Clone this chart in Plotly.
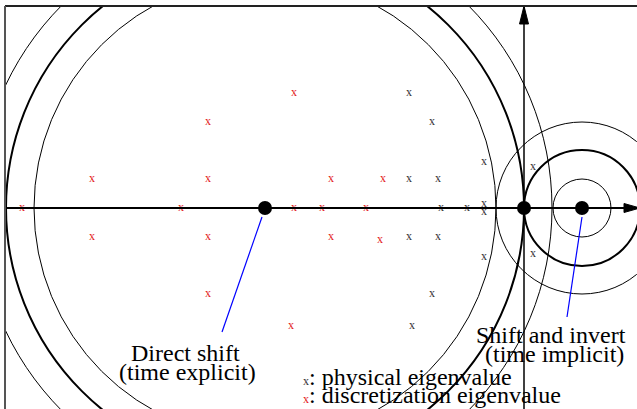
import plotly.graph_objects as go

# ---- data (units: 1 unit ~ 1 px, origin at the axes crossing) ----
phys_x = [-115, -92, -115, -86, -115, -86, -83, -57, -40, -40, -40, -40, 9, 9, -92, -112]
phys_y = [115, 86, 29, 29, -29, -29, 0, 0, 4, -4, 46, -49, 41, -46, -86, -118]

disc_x = [-502, -432, -432, -316, -316, -316, -316, -343, -230, -233, -230, -202, -158, -193, -193, -141, -144]
disc_y = [0, 29, -29, 86, 29, -29, -86, 0, 115, -118, 0, 0, 0, 29, -29, 29, -32]

shift_names = ["Direct shift", "Shift and invert"]
shift_x = [-259, 58]
shift_y = [0, 0]

direct_radii = [231, 259, 287]
direct_widths = [1, 2, 1]
invert_radii = [29, 58, 86]
invert_widths = [1, 2, 1]

# leader lines (from shift point to label)
lead_direct_x = [-262, -302]
lead_direct_y = [-9, -124]
lead_invert_x = [58, 43]
lead_invert_y = [-9, -109]

x_range = [-519, 113]
y_range = [-201, 202]

FONT = "Liberation Serif, Times New Roman, serif"
RED = "#e31a1a"
DARK = "#333333"

fig = go.Figure()

shapes = []
# circles
for r, w in zip(direct_radii, direct_widths):
    cx = shift_x[0]
    shapes.append(dict(type="circle", xref="x", yref="y", x0=cx - r, x1=cx + r, y0=-r, y1=r,
                       line=dict(color="black", width=w), layer="below"))
for r, w in zip(invert_radii, invert_widths):
    cx = shift_x[1]
    shapes.append(dict(type="circle", xref="x", yref="y", x0=cx - r, x1=cx + r, y0=-r, y1=r,
                       line=dict(color="black", width=w), layer="below"))

# axes lines
shapes.append(dict(type="line", xref="x", yref="y", x0=x_range[0], x1=x_range[1] + 3, y0=0, y1=0,
                   line=dict(color="black", width=2)))
shapes.append(dict(type="line", xref="x", yref="y", x0=0, x1=0, y0=y_range[0], y1=y_range[1],
                   line=dict(color="black", width=1.5)))
# arrowheads
head_len, head_half = 16, 4.5
tipx = x_range[1] + 3
shapes.append(dict(type="path", xref="x", yref="y",
                   path=f"M {tipx},0 L {tipx-head_len},{head_half} L {tipx-head_len},{-head_half} Z",
                   fillcolor="black", line=dict(color="black", width=1)))
tipy = y_range[1]
head_len_v = 18
shapes.append(dict(type="path", xref="x", yref="y",
                   path=f"M 0,{tipy} L {head_half},{tipy-head_len_v} L {-head_half},{tipy-head_len_v} Z",
                   fillcolor="black", line=dict(color="black", width=1)))
# frame (top and left)
shapes.append(dict(type="line", xref="paper", yref="paper", x0=0, x1=1, y0=1, y1=1,
                   line=dict(color="#222222", width=2)))
shapes.append(dict(type="line", xref="paper", yref="paper", x0=0, x1=0, y0=0, y1=1,
                   line=dict(color="#555555", width=2)))

# leader lines
fig.add_trace(go.Scatter(x=lead_direct_x, y=lead_direct_y, mode="lines",
                         line=dict(color="blue", width=1.2), hoverinfo="skip"))
fig.add_trace(go.Scatter(x=lead_invert_x, y=lead_invert_y, mode="lines",
                         line=dict(color="blue", width=1.2), hoverinfo="skip"))

# eigenvalues
fig.add_trace(go.Scatter(x=phys_x, y=phys_y, mode="text", text=["x"] * len(phys_x),
                         textposition="middle center",
                         textfont=dict(family=FONT, size=12, color=DARK), name="physical eigenvalue"))
fig.add_trace(go.Scatter(x=disc_x, y=disc_y, mode="text", text=["x"] * len(disc_x),
                         textposition="middle center",
                         textfont=dict(family=FONT, size=12, color=RED), name="discretization eigenvalue"))

# shift points
fig.add_trace(go.Scatter(x=[shift_x[0], 0, shift_x[1]], y=[0, 0, 0], mode="markers",
                         marker=dict(color="black", size=14), hoverinfo="skip"))

annotations = [
    dict(x=-339, y=-145, text="Direct shift"),
    dict(x=-336.5, y=-164, text="(time explicit)"),
    dict(x=27, y=-127, text="Shift and invert"),
    dict(x=30, y=-146, text="(time implicit)"),
]
anns = []
for a in annotations:
    anns.append(dict(x=a["x"], y=a["y"], xref="x", yref="y", text=a["text"], showarrow=False,
                     xanchor="center", yanchor="middle",
                     font=dict(family=FONT, size=24, color="black")))
legend_items = [("physical eigenvalue", DARK, -169), ("discretization eigenvalue", RED, -187)]
for label, col, yy in legend_items:
    anns.append(dict(x=-223, y=yy, xref="x", yref="y", showarrow=False, xanchor="left", yanchor="middle",
                     text=f"<span style='font-size:12px;color:{col}'>x</span>: {label}",
                     font=dict(family=FONT, size=24, color="black")))

fig.update_layout(
    width=637, height=409,
    margin=dict(l=5, r=0, t=6, b=0),
    paper_bgcolor="white", plot_bgcolor="white",
    showlegend=False,
    shapes=shapes, annotations=anns,
    xaxis=dict(range=x_range, visible=False, fixedrange=True),
    yaxis=dict(range=y_range, visible=False, fixedrange=True),
)

fig.write_html("out.html")
